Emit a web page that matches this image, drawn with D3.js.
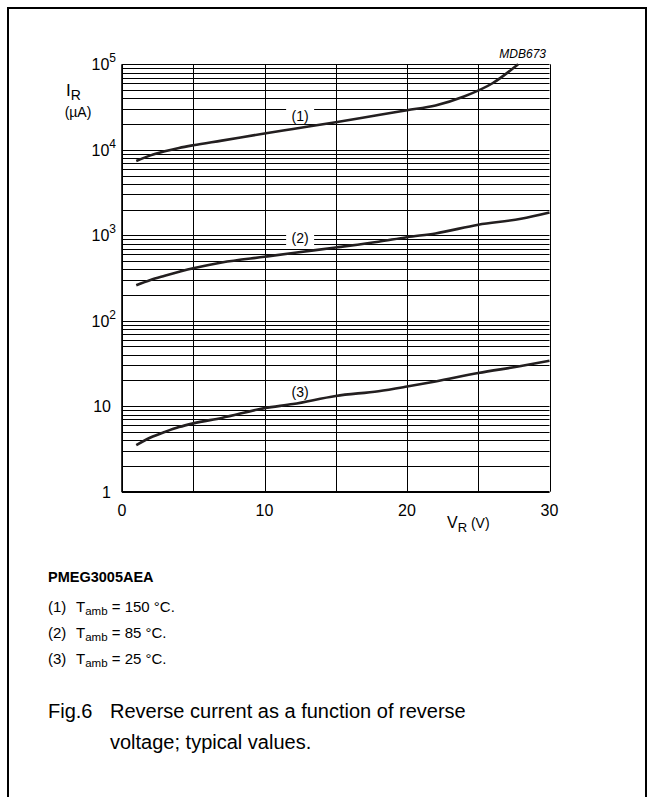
<!DOCTYPE html>
<html lang="en">
<head>
  <meta charset="UTF-8" />
  <title>Fig.6 Reverse current vs reverse voltage</title>
  <style>
    body { margin: 0; background: #fff; font-family: "Liberation Sans", Arial, sans-serif; }
    svg text { fill: #000; }
  </style>
</head>
<body>
  <div id="chart"></div>
  <script src="https://cdn.jsdelivr.net/npm/d3@7"></script>
  <script>
    // values (V in volts, I in µA)
    const curve1 = [[1,7400],[2,8600],[3,9600],[4,10500],[5,11300],[7,12800],[10,15500],[12,17500],[15,21000],[18,25500],[20,29000],[22,33000],[24,42000],[26,60000],[27.8,100000]];
    const curve2 = [[1,260],[2,300],[3,335],[5,410],[7,480],[10,560],[12,620],[15,720],[18,840],[20,950],[22,1050],[25,1330],[28,1560],[30,1850]];
    const curve3 = [[1,3.5],[2,4.3],[3,5.0],[4,5.7],[5,6.3],[7,7.3],[10,9.5],[12,10.6],[15,13.2],[18,15],[20,17],[22,19.5],[25,24.5],[28,29.5],[30,34]];
    const curveLabels = ["(1)", "(2)", "(3)"];
    const labelAt = [[12.5, 25000], [12.5, 920], [12.5, 14.5]];
    const xTicks = [0, 10, 20, 30];
    const yTicks = [1, 10, 100, 1000, 10000, 100000];
    const yTickText = [["1", ""], ["10", ""], ["10", "2"], ["10", "3"], ["10", "4"], ["10", "5"]];
    const notes = [["(1)", "150"], ["(2)", "85"], ["(3)", "25"]];

    const W = 655, H = 797;
    const svg = d3.select("#chart").append("svg")
      .attr("width", W).attr("height", H);

    // outer frame
    svg.append("rect")
      .attr("x", 8).attr("y", 8).attr("width", 638).attr("height", 800)
      .attr("fill", "none").attr("stroke", "#000").attr("stroke-width", 2);

    const x = d3.scaleLinear().domain([0, 30]).range([122, 549.5]);
    const y = d3.scaleLog().domain([1, 1e5]).range([491.7, 64.3]);

    const g = svg.append("g");

    // horizontal log grid
    const hLines = [];
    for (let d = 0; d < 5; d++) {
      for (let m = 1; m < 10; m++) hLines.push(m * Math.pow(10, d));
    }
    hLines.push(1e5);
    g.selectAll(".hl").data(hLines).join("line")
      .attr("x1", x(0)).attr("x2", x(30))
      .attr("y1", d => Math.round(y(d)) + 0.5).attr("y2", d => Math.round(y(d)) + 0.5)
      .attr("stroke", "#000").attr("stroke-width", 1);

    // vertical grid
    g.selectAll(".vl").data(d3.range(0, 31, 5)).join("line")
      .attr("x1", d => Math.round(x(d)) + 0.5).attr("x2", d => Math.round(x(d)) + 0.5)
      .attr("y1", y(1e5)).attr("y2", y(1))
      .attr("stroke", "#000").attr("stroke-width", 1);

    // left & bottom axis lines slightly heavier
    g.append("line").attr("x1", x(0)).attr("x2", x(0)).attr("y1", y(1e5)).attr("y2", y(1) + 0.5)
      .attr("stroke", "#000").attr("stroke-width", 1.6);
    g.append("line").attr("x1", x(0)).attr("x2", x(30)).attr("y1", y(1)).attr("y2", y(1))
      .attr("stroke", "#000").attr("stroke-width", 1.6);

    // curve labels with white backing
    curveLabels.forEach((t, i) => {
      const px = x(labelAt[i][0]), py = y(labelAt[i][1]);
      g.append("rect").attr("x", px - 14).attr("y", py - 7).attr("width", 28).attr("height", 14).attr("fill", "#fff");
      g.append("text").attr("x", px).attr("y", py + 5)
        .attr("text-anchor", "middle").attr("font-size", 14).text(t);
    });

    const line = d3.line()
      .x(d => x(d[0])).y(d => y(d[1]))
      .curve(d3.curveMonotoneX);

    [curve1, curve2, curve3].forEach(c => {
      g.append("path").attr("d", line(c))
        .attr("fill", "none").attr("stroke", "#231f20").attr("stroke-width", 2.6);
    });

    // y tick labels
    yTicks.forEach((v, i) => {
      const sup = yTickText[i][1];
      const t = svg.append("text").attr("x", sup ? 116 : 111).attr("y", y(v) + 6)
        .attr("text-anchor", "end").attr("font-size", 16);
      t.append("tspan").text(yTickText[i][0]);
      if (sup) {
        t.append("tspan").attr("font-size", 12).attr("dy", -8).text(sup);
      }
    });

    // x tick labels
    svg.selectAll(".xt").data(xTicks).join("text")
      .attr("x", d => x(d)).attr("y", 516)
      .attr("text-anchor", "middle").attr("font-size", 16)
      .text(d => d);

    // axis titles
    const yt = svg.append("text").attr("x", 66).attr("y", 96).attr("font-size", 17);
    yt.append("tspan").text("I");
    yt.append("tspan").attr("font-size", 14).attr("dy", 4).text("R");
    svg.append("text").attr("x", 78).attr("y", 117).attr("text-anchor", "middle")
      .attr("font-size", 14).text("(\u00b5A)");

    const xt = svg.append("text").attr("x", 447).attr("y", 528).attr("font-size", 16);
    xt.append("tspan").text("V");
    xt.append("tspan").attr("font-size", 13).attr("dy", 4).text("R");
    xt.append("tspan").attr("font-size", 14).attr("dy", -4).text(" (V)");

    svg.append("text").attr("x", 546).attr("y", 58).attr("text-anchor", "end")
      .attr("font-size", 12).attr("font-style", "italic").text("MDB673");

    // notes
    svg.append("text").attr("x", 48).attr("y", 582).attr("font-size", 14.5)
      .attr("font-weight", "bold").text("PMEG3005AEA");
    notes.forEach((n, i) => {
      const t = svg.append("text").attr("x", 48).attr("y", 612 + i * 26).attr("font-size", 15);
      t.append("tspan").text(n[0]);
      t.append("tspan").attr("x", 76).text("T");
      t.append("tspan").attr("font-size", 11.5).attr("dy", 3).text("amb");
      t.append("tspan").attr("dy", -3).text(" = " + n[1] + " \u00b0C.");
    });

    // caption
    const cap = svg.append("text").attr("font-size", 20);
    cap.append("tspan").attr("x", 48).attr("y", 718).text("Fig.6");
    cap.append("tspan").attr("x", 110).attr("y", 718).text("Reverse current as a function of reverse");
    cap.append("tspan").attr("x", 110).attr("y", 749).text("voltage; typical values.");
  </script>
</body>
</html>
